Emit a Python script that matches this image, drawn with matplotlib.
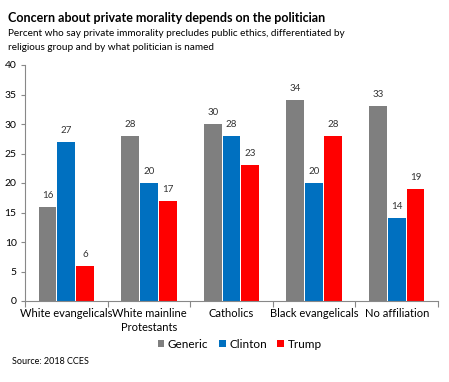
import matplotlib.pyplot as plt
import numpy as np

plt.rcParams['font.family'] = ['Lato', 'DejaVu Sans']

groups = ['White evangelicals', 'White mainline\nProtestants', 'Catholics',
          'Black evangelicals', 'No affiliation']
series = ['Generic', 'Clinton', 'Trump']
generic = [16, 28, 30, 34, 33]
clinton = [27, 20, 28, 20, 14]
trump = [6, 17, 23, 28, 19]
colors = ['#7f7f7f', '#0070c0', '#ff0000']

W, H = 449, 382
fig = plt.figure(figsize=(W / 100, H / 100), dpi=100)
ax = fig.add_axes([25 / W, 1 - 301 / H, (438 - 25) / W, (301 - 65) / H])

x = np.arange(len(groups))
bw = 0.215
for i, (vals, c, name) in enumerate(zip([generic, clinton, trump], colors, series)):
    pos = x + (i - 1) * (bw + 0.012)
    bars = ax.bar(pos, vals, bw, color=c, label=name)
    for b, v in zip(bars, vals):
        ax.text(b.get_x() + b.get_width() / 2, v + 1.2, str(v), ha='center',
                va='bottom', fontsize=7, color='#333333')

ax.set_xlim(-0.5, len(groups) - 0.5)
ax.set_ylim(0, 40)
ax.set_yticks(range(0, 41, 5))
ax.set_xticks(np.arange(-0.5, len(groups), 1), minor=False)
ax.set_xticklabels([''] * (len(groups) + 1))
ax.set_xticks(x, minor=True)
ax.set_xticklabels(groups, minor=True, fontsize=8, linespacing=1.3)
ax.tick_params(axis='x', which='minor', length=0, pad=5)
ax.tick_params(axis='x', which='major', length=4, color='#888888')
ax.tick_params(axis='y', labelsize=7.5, length=3, color='#888888', pad=3)
for s in ['top', 'right']:
    ax.spines[s].set_visible(False)
for s in ['left', 'bottom']:
    ax.spines[s].set_color('#888888')

ax.legend(loc='upper center', bbox_to_anchor=(0.52, -0.115), ncol=3, frameon=False,
          fontsize=8.5, handlelength=0.55, handleheight=0.55, handletextpad=0.3,
          columnspacing=0.9)

fig.text(8 / W, 1 - 18 / H, 'Concern about private morality depends on the politician',
         fontsize=9, fontweight='bold', va='center')
fig.text(8 / W, 1 - 33 / H, 'Percent who say private immorality precludes public ethics, differentiated by',
         fontsize=7.2, va='center')
fig.text(8 / W, 1 - 47 / H, 'religious group and by what politician is named',
         fontsize=7.2, va='center')
fig.text(12 / W, 1 - 362 / H, 'Source: 2018 CCES', fontsize=6.5, va='center')

fig.savefig('out.png', dpi=100)
